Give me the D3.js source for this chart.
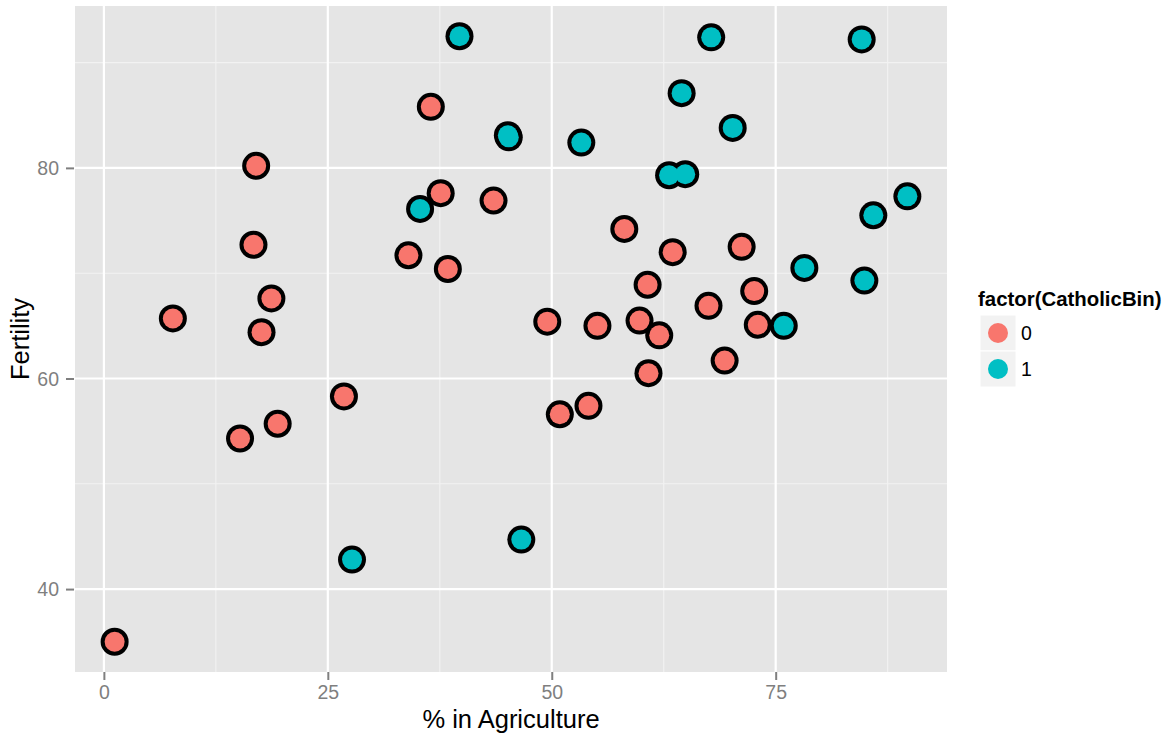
<!DOCTYPE html>
<html>
<head>
<meta charset="utf-8">
<script src="https://cdn.jsdelivr.net/npm/d3@7"></script>
<style>
html,body{margin:0;padding:0;background:#fff;}
svg{display:block;font-family:"Liberation Sans",Arial,sans-serif;}
</style>
</head>
<body>
<svg id="chart" width="1166" height="738"></svg>
<script>
// Swiss provinces: % in Agriculture vs Fertility, coloured by CatholicBin
const agriculture = [17.0,45.1,39.7,36.5,43.5,35.3,70.2,67.8,53.3,45.2,64.5,62.0,67.5,60.7,69.3,72.6,34.0,19.4,15.2,73.0,59.8,55.1,50.9,54.1,71.2,58.1,63.5,60.8,26.8,49.5,85.9,84.9,89.7,78.2,64.9,75.9,84.6,63.1,38.4,7.7,16.7,17.6,37.6,18.7,1.2,46.6,27.7];
const fertility   = [80.2,83.1,92.5,85.8,76.9,76.1,83.8,92.4,82.4,82.9,87.1,64.1,66.9,68.9,61.7,68.3,71.7,55.7,54.3,65.1,65.5,65.0,56.6,57.4,72.5,74.2,72.0,60.5,58.3,65.4,75.5,69.3,77.3,70.5,79.4,65.0,92.2,79.3,70.4,65.7,72.7,64.4,77.6,67.6,35.0,44.7,42.8];
const catholicBin = [0,1,1,0,0,1,1,1,1,1,1,0,0,0,0,0,0,0,0,0,0,0,0,0,0,0,0,0,0,0,1,1,1,1,1,1,1,1,0,0,0,0,0,0,0,1,1];
const levels = ["0","1"];
const palette = ["#F8766D","#00BFC4"];
const xMajor = [0,25,50,75];
const xMinor = [12.5,37.5,62.5,87.5];
const yMajor = [40,60,80];
const yMinor = [50,70,90];
const xTitle = "% in Agriculture";
const yTitle = "Fertility";
const legendTitle = "factor(CatholicBin)";

const data = agriculture.map((a,i)=>({x:a,y:fertility[i],c:String(catholicBin[i])}));

const svg = d3.select("#chart");
const P = {left:75,right:947,top:6,bottom:672};

const xe = d3.extent(agriculture), ye = d3.extent(fertility);
const xp = (xe[1]-xe[0])*0.05, yp = (ye[1]-ye[0])*0.05;
const x = d3.scaleLinear().domain([xe[0]-xp, xe[1]+xp]).range([P.left,P.right]);
const y = d3.scaleLinear().domain([ye[0]-yp, ye[1]+yp]).range([P.bottom,P.top]);
const color = d3.scaleOrdinal().domain(levels).range(palette);

// panel
svg.append("rect").attr("x",P.left).attr("y",P.top)
  .attr("width",P.right-P.left).attr("height",P.bottom-P.top).attr("fill","#E5E5E5");

const g = svg.append("g");
// minor grid
g.selectAll(".vmin").data(xMinor).join("line")
  .attr("x1",d=>x(d)).attr("x2",d=>x(d)).attr("y1",P.top).attr("y2",P.bottom)
  .attr("stroke","#F2F2F2").attr("stroke-width",1.1);
g.selectAll(".hmin").data(yMinor).join("line")
  .attr("y1",d=>y(d)).attr("y2",d=>y(d)).attr("x1",P.left).attr("x2",P.right)
  .attr("stroke","#F2F2F2").attr("stroke-width",1.1);
// major grid
g.selectAll(".vmaj").data(xMajor).join("line")
  .attr("x1",d=>x(d)).attr("x2",d=>x(d)).attr("y1",P.top).attr("y2",P.bottom)
  .attr("stroke","#FFFFFF").attr("stroke-width",2.2);
g.selectAll(".hmaj").data(yMajor).join("line")
  .attr("y1",d=>y(d)).attr("y2",d=>y(d)).attr("x1",P.left).attr("x2",P.right)
  .attr("stroke","#FFFFFF").attr("stroke-width",2.2);

// axes
const xAxis = d3.axisBottom(x).tickValues(xMajor).tickSize(8).tickPadding(5).tickFormat(d3.format("d"));
const yAxis = d3.axisLeft(y).tickValues(yMajor).tickSize(8).tickPadding(7).tickFormat(d3.format("d"));
const gx = svg.append("g").attr("transform",`translate(0,${P.bottom})`).call(xAxis);
const gy = svg.append("g").attr("transform",`translate(${P.left-1},0)`).call(yAxis);
[gx,gy].forEach(a=>{
  a.select(".domain").remove();
  a.selectAll(".tick line").attr("stroke","#7F7F7F").attr("stroke-width",2);
  a.selectAll(".tick text").attr("fill","#7F7F7F").style("font-size","19.5px")
    .style("font-family","'Liberation Sans',Arial,sans-serif");
});
gy.selectAll(".tick text").attr("dy","0.35em");
gx.selectAll(".tick text").attr("dy","0.72em");

// points: black layer first, then coloured layer
svg.append("g").selectAll("circle").data(data).join("circle")
  .attr("cx",d=>x(d.x)).attr("cy",d=>y(d.y)).attr("r",14).attr("fill","#000");
svg.append("g").selectAll("circle").data(data).join("circle")
  .attr("cx",d=>x(d.x)).attr("cy",d=>y(d.y)).attr("r",10).attr("fill",d=>color(d.c));

// axis titles
svg.append("text").attr("x",(P.left+P.right)/2).attr("y",728).attr("text-anchor","middle")
  .style("font-size","25.5px").attr("fill","#000").text(xTitle);
svg.append("text").attr("transform",`translate(29,${(P.top+P.bottom)/2}) rotate(-90)`)
  .attr("text-anchor","middle").style("font-size","25.5px").attr("fill","#000").text(yTitle);

// legend
const L = svg.append("g");
L.append("text").attr("x",978).attr("y",306).style("font-size","20.4px").style("font-weight","bold")
  .attr("fill","#000").text(legendTitle);
const keyH = 36;
const items = L.selectAll(".key").data(levels).join("g")
  .attr("transform",(d,i)=>`translate(980,${315+i*keyH})`);
items.append("rect").attr("width",36).attr("height",keyH).attr("fill","#F2F2F2")
  .attr("stroke","#FFFFFF").attr("stroke-width",1);
items.append("circle").attr("cx",18).attr("cy",keyH/2).attr("r",10).attr("fill",d=>color(d));
items.append("text").attr("x",41).attr("y",keyH/2).attr("dy","0.35em")
  .style("font-size","19.5px").attr("fill","#000").text(d=>d);
</script>
</body>
</html>
